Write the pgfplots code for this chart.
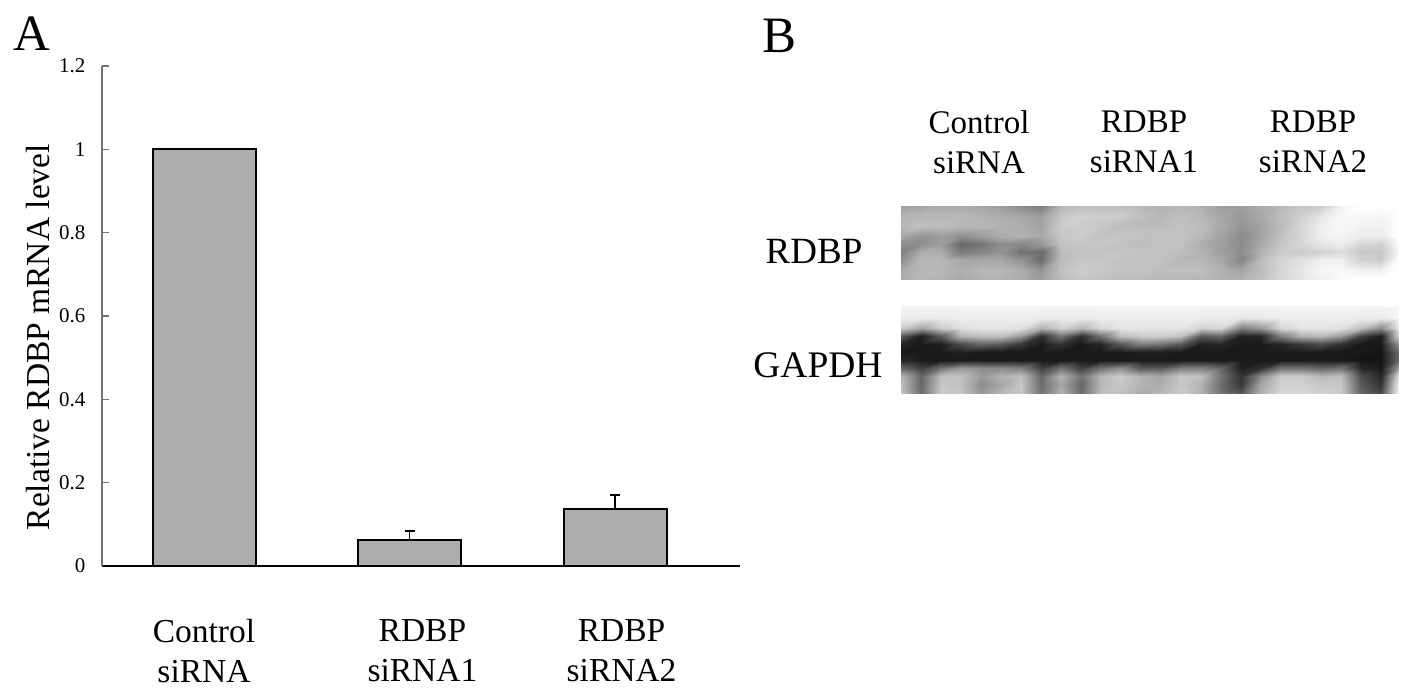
\documentclass[border=0pt]{standalone}
\usepackage{fontspec}
\setmainfont{Liberation Serif}
\usepackage{pgfplots}
\pgfplotsset{compat=1.18}
\begin{document}
\begin{tikzpicture}[x=1bp,y=1bp]
\path[use as bounding box] (0,0) rectangle (1417,699);
% western blot strips, pixel coordinates of the figure
\begin{axis}[at={(0,0)},anchor=south west,scale only axis,width=1417bp,height=699bp,
  xmin=0,xmax=1417,ymin=0,ymax=699,y dir=reverse,zmin=0,zmax=1,view={0}{90},axis lines=none,
  colormap={g}{gray(0cm)=(0); gray(1cm)=(1)},point meta min=0,point meta max=1]
\addplot3[surf,shader=interp,mesh/cols=26] coordinates {
(901,206,.62)(921,206,.65)(941,206,.68)(961,206,.68)(981,206,.65)(1001,206,.62)(1021,206,.55)(1041,206,.48)(1061,206,.72)(1081,206,.75)(1101,206,.75)(1121,206,.75)(1141,206,.72)(1161,206,.70)(1181,206,.72)(1201,206,.70)(1221,206,.62)(1241,206,.62)(1261,206,.68)(1281,206,.72)(1301,206,.78)(1321,206,.80)(1341,206,.95)(1361,206,1)(1381,206,1)(1398,206,1)

(901,216,.70)(921,216,.72)(941,216,.72)(961,216,.72)(981,216,.70)(1001,216,.68)(1021,216,.66)(1041,216,.62)(1061,216,.78)(1081,216,.82)(1101,216,.80)(1121,216,.80)(1141,216,.75)(1161,216,.72)(1181,216,.75)(1201,216,.72)(1221,216,.65)(1241,216,.60)(1261,216,.66)(1281,216,.75)(1301,216,.82)(1321,216,.90)(1341,216,.97)(1361,216,.97)(1381,216,.96)(1398,216,1)

(901,226,.72)(921,226,.75)(941,226,.74)(961,226,.72)(981,226,.72)(1001,226,.70)(1021,226,.68)(1041,226,.64)(1061,226,.80)(1081,226,.80)(1101,226,.78)(1121,226,.74)(1141,226,.74)(1161,226,.74)(1181,226,.76)(1201,226,.74)(1221,226,.66)(1241,226,.58)(1261,226,.64)(1281,226,.74)(1301,226,.84)(1321,226,.94)(1341,226,.97)(1361,226,.95)(1381,226,.94)(1398,226,1)

(901,236,.66)(921,236,.58)(941,236,.62)(961,236,.56)(981,236,.62)(1001,236,.68)(1021,236,.70)(1041,236,.66)(1061,236,.78)(1081,236,.80)(1101,236,.76)(1121,236,.78)(1141,236,.76)(1161,236,.76)(1181,236,.76)(1201,236,.72)(1221,236,.64)(1241,236,.55)(1261,236,.64)(1281,236,.76)(1301,236,.84)(1321,236,.94)(1341,236,.96)(1361,236,.92)(1381,236,.93)(1398,236,1)

(901,244,.56)(921,244,.55)(941,244,.62)(961,244,.40)(981,244,.46)(1001,244,.55)(1021,244,.52)(1041,244,.60)(1061,244,.76)(1081,244,.78)(1101,244,.78)(1121,244,.76)(1141,244,.74)(1161,244,.76)(1181,244,.76)(1201,244,.68)(1221,244,.62)(1241,244,.55)(1261,244,.66)(1281,244,.78)(1301,244,.84)(1321,244,.90)(1341,244,.93)(1361,244,.84)(1381,244,.82)(1398,244,.98)

(901,252,.50)(921,252,.68)(941,252,.68)(961,252,.48)(981,252,.52)(1001,252,.58)(1021,252,.45)(1041,252,.42)(1061,252,.74)(1081,252,.76)(1101,252,.76)(1121,252,.78)(1141,252,.76)(1161,252,.76)(1181,252,.74)(1201,252,.70)(1221,252,.62)(1241,252,.55)(1261,252,.70)(1281,252,.80)(1301,252,.80)(1321,252,.82)(1341,252,.86)(1361,252,.78)(1381,252,.78)(1398,252,.96)

(901,260,.55)(921,260,.72)(941,260,.72)(961,260,.66)(981,260,.66)(1001,260,.66)(1021,260,.58)(1041,260,.42)(1061,260,.74)(1081,260,.78)(1101,260,.78)(1121,260,.76)(1141,260,.76)(1161,260,.76)(1181,260,.72)(1201,260,.72)(1221,260,.66)(1241,260,.52)(1261,260,.74)(1281,260,.84)(1301,260,.88)(1321,260,.94)(1341,260,.94)(1361,260,.82)(1381,260,.80)(1398,260,1)

(901,270,.66)(921,270,.72)(941,270,.72)(961,270,.68)(981,270,.72)(1001,270,.72)(1021,270,.68)(1041,270,.58)(1061,270,.76)(1081,270,.80)(1101,270,.78)(1121,270,.76)(1141,270,.76)(1161,270,.74)(1181,270,.76)(1201,270,.74)(1221,270,.70)(1241,270,.64)(1261,270,.74)(1281,270,.84)(1301,270,.90)(1321,270,.97)(1341,270,.98)(1361,270,.95)(1381,270,.94)(1398,270,1)

(901,280,.68)(921,280,.72)(941,280,.70)(961,280,.66)(981,280,.70)(1001,280,.70)(1021,280,.68)(1041,280,.62)(1061,280,.74)(1081,280,.78)(1101,280,.76)(1121,280,.74)(1141,280,.74)(1161,280,.72)(1181,280,.72)(1201,280,.72)(1221,280,.70)(1241,280,.70)(1261,280,.76)(1281,280,.84)(1301,280,.90)(1321,280,.94)(1341,280,.98)(1361,280,1)(1381,280,1)(1398,280,1)
};
\addplot3[surf,shader=interp,mesh/cols=26] coordinates {
(901,306,.96)(921,306,.96)(941,306,.96)(961,306,.96)(981,306,.96)(1001,306,.96)(1021,306,.96)(1041,306,.96)(1061,306,.96)(1081,306,.96)(1101,306,.96)(1121,306,.96)(1141,306,.96)(1161,306,.96)(1181,306,.96)(1201,306,.96)(1221,306,.96)(1241,306,.96)(1261,306,.96)(1281,306,.96)(1301,306,.96)(1321,306,.96)(1341,306,.96)(1361,306,.96)(1381,306,.96)(1398,306,.98)

(901,318,.92)(921,318,.92)(941,318,.92)(961,318,.93)(981,318,.93)(1001,318,.93)(1021,318,.93)(1041,318,.92)(1061,318,.92)(1081,318,.92)(1101,318,.93)(1121,318,.93)(1141,318,.93)(1161,318,.93)(1181,318,.93)(1201,318,.92)(1221,318,.92)(1241,318,.90)(1261,318,.92)(1281,318,.93)(1301,318,.93)(1321,318,.93)(1341,318,.93)(1361,318,.92)(1381,318,.92)(1398,318,.96)

(901,328,.80)(921,328,.65)(941,328,.80)(961,328,.88)(981,328,.90)(1001,328,.90)(1021,328,.88)(1041,328,.70)(1061,328,.82)(1081,328,.72)(1101,328,.85)(1121,328,.90)(1141,328,.90)(1161,328,.90)(1181,328,.90)(1201,328,.82)(1221,328,.85)(1241,328,.50)(1261,328,.60)(1281,328,.85)(1301,328,.90)(1321,328,.90)(1341,328,.88)(1361,328,.75)(1381,328,.55)(1398,328,.90)

(901,336,.35)(921,336,.12)(941,336,.35)(961,336,.70)(981,336,.75)(1001,336,.75)(1021,336,.60)(1041,336,.18)(1061,336,.45)(1081,336,.18)(1101,336,.45)(1121,336,.75)(1141,336,.80)(1161,336,.80)(1181,336,.75)(1201,336,.35)(1221,336,.40)(1241,336,.12)(1261,336,.15)(1281,336,.50)(1301,336,.70)(1321,336,.72)(1341,336,.60)(1361,336,.25)(1381,336,.12)(1398,336,.80)

(901,344,.15)(921,344,.10)(941,344,.12)(961,344,.30)(981,344,.40)(1001,344,.35)(1021,344,.22)(1041,344,.10)(1061,344,.20)(1081,344,.10)(1101,344,.15)(1121,344,.35)(1141,344,.50)(1161,344,.45)(1181,344,.35)(1201,344,.12)(1221,344,.15)(1241,344,.10)(1261,344,.10)(1281,344,.15)(1301,344,.22)(1321,344,.30)(1341,344,.20)(1361,344,.10)(1381,344,.10)(1398,344,.55)

(901,352,.10)(921,352,.10)(941,352,.10)(961,352,.12)(981,352,.10)(1001,352,.10)(1021,352,.10)(1041,352,.10)(1061,352,.10)(1081,352,.10)(1101,352,.10)(1121,352,.10)(1141,352,.12)(1161,352,.12)(1181,352,.10)(1201,352,.10)(1221,352,.10)(1241,352,.10)(1261,352,.10)(1281,352,.10)(1301,352,.10)(1321,352,.10)(1341,352,.10)(1361,352,.10)(1381,352,.08)(1398,352,.40)

(901,360,.15)(921,360,.10)(941,360,.10)(961,360,.10)(981,360,.10)(1001,360,.10)(1021,360,.10)(1041,360,.10)(1061,360,.10)(1081,360,.10)(1101,360,.10)(1121,360,.10)(1141,360,.10)(1161,360,.10)(1181,360,.10)(1201,360,.10)(1221,360,.10)(1241,360,.10)(1261,360,.10)(1281,360,.10)(1301,360,.10)(1321,360,.10)(1341,360,.10)(1361,360,.08)(1381,360,.08)(1398,360,.40)

(901,368,.40)(921,368,.25)(941,368,.45)(961,368,.60)(981,368,.55)(1001,368,.55)(1021,368,.50)(1041,368,.25)(1061,368,.45)(1081,368,.25)(1101,368,.45)(1121,368,.55)(1141,368,.35)(1161,368,.35)(1181,368,.50)(1201,368,.50)(1221,368,.40)(1241,368,.12)(1261,368,.20)(1281,368,.45)(1301,368,.45)(1321,368,.40)(1341,368,.45)(1361,368,.15)(1381,368,.10)(1398,368,.60)

(901,376,.70)(921,376,.40)(941,376,.75)(961,376,.75)(981,376,.60)(1001,376,.70)(1021,376,.75)(1041,376,.40)(1061,376,.70)(1081,376,.45)(1101,376,.72)(1121,376,.80)(1141,376,.70)(1161,376,.65)(1181,376,.78)(1201,376,.75)(1221,376,.45)(1241,376,.20)(1261,376,.55)(1281,376,.80)(1301,376,.80)(1321,376,.72)(1341,376,.75)(1361,376,.30)(1381,376,.15)(1398,376,.85)

(901,384,.75)(921,384,.40)(941,384,.78)(961,384,.75)(981,384,.55)(1001,384,.65)(1021,384,.78)(1041,384,.42)(1061,384,.65)(1081,384,.40)(1101,384,.72)(1121,384,.78)(1141,384,.70)(1161,384,.68)(1181,384,.78)(1201,384,.70)(1221,384,.42)(1241,384,.22)(1261,384,.65)(1281,384,.82)(1301,384,.82)(1321,384,.78)(1341,384,.78)(1361,384,.35)(1381,384,.20)(1398,384,.92)

(901,394,.78)(921,394,.42)(941,394,.80)(961,394,.78)(981,394,.60)(1001,394,.72)(1021,394,.78)(1041,394,.45)(1061,394,.70)(1081,394,.42)(1101,394,.75)(1121,394,.75)(1141,394,.68)(1161,394,.72)(1181,394,.80)(1201,394,.70)(1221,394,.45)(1241,394,.35)(1261,394,.70)(1281,394,.85)(1301,394,.85)(1321,394,.82)(1341,394,.80)(1361,394,.40)(1381,394,.30)(1398,394,.95)
};
\end{axis}
% bar chart
\begin{axis}[at={(102bp,133bp)},anchor=south west,scale only axis,width=638bp,height=500bp,
  xmin=-0.4964,xmax=2.6083,ymin=0,ymax=1.2,
  axis x line=bottom,axis y line=left,axis line style={-},
  x axis line style={black,line width=1.5bp},
  y axis line style={gray!90!black,line width=1.3bp},
  xtick={0,1.063,2.032},
  xticklabels={{Control\\siRNA},{RDBP\\siRNA1},{RDBP\\siRNA2}},
  xtick style={draw=none},
  xticklabel style={align=center,font=\fontsize{33.5bp}{40bp}\selectfont,anchor=north,yshift=-50bp},
  ytick={0,0.2,0.4,0.6,0.8,1,1.2},
  yticklabels={0,0.2,0.4,0.6,0.8,1,1.2},
  ytick style={draw=gray!90!black,line width=1.2bp},
  y tick label style={font=\fontsize{21bp}{24bp}\selectfont,anchor=east,xshift=-13bp},
  tick align=inside,
  major tick length=7bp,
  ylabel={Relative RDBP mRNA level},
  ylabel style={font=\fontsize{33.5bp}{36bp}\selectfont,at={(axis description cs:0,0.4575)},anchor=south,yshift=49bp},
]
\addplot[ybar,bar width=103bp,draw=black,line width=2bp,fill={rgb,255:red,173;green,173;blue,173},
  error bars/.cd,y dir=plus,y explicit,error mark options={rotate=90,mark size=5bp,line width=1.6bp},
  error bar style={line width=1.6bp,black}]
  coordinates {(0,1) (1,0.0624) +- (0,0.0223) (2,0.136) +- (0,0.034)};
\end{axis}
\node[font=\fontsize{51bp}{54bp}\selectfont] at (32,665) {A};
\node[font=\fontsize{51bp}{54bp}\selectfont] at (779,663) {B};
\node[align=center,font=\fontsize{33bp}{40bp}\selectfont] at (979,557) {Control\\siRNA};
\node[align=center,font=\fontsize{33bp}{40bp}\selectfont] at (1144,557) {RDBP\\siRNA1};
\node[align=center,font=\fontsize{33bp}{40bp}\selectfont] at (1313,557) {RDBP\\siRNA2};
\node[font=\fontsize{37bp}{40bp}\selectfont] at (814,448) {RDBP};
\node[font=\fontsize{37.5bp}{40bp}\selectfont] at (818,334) {GAPDH};
\end{tikzpicture}
\end{document}
